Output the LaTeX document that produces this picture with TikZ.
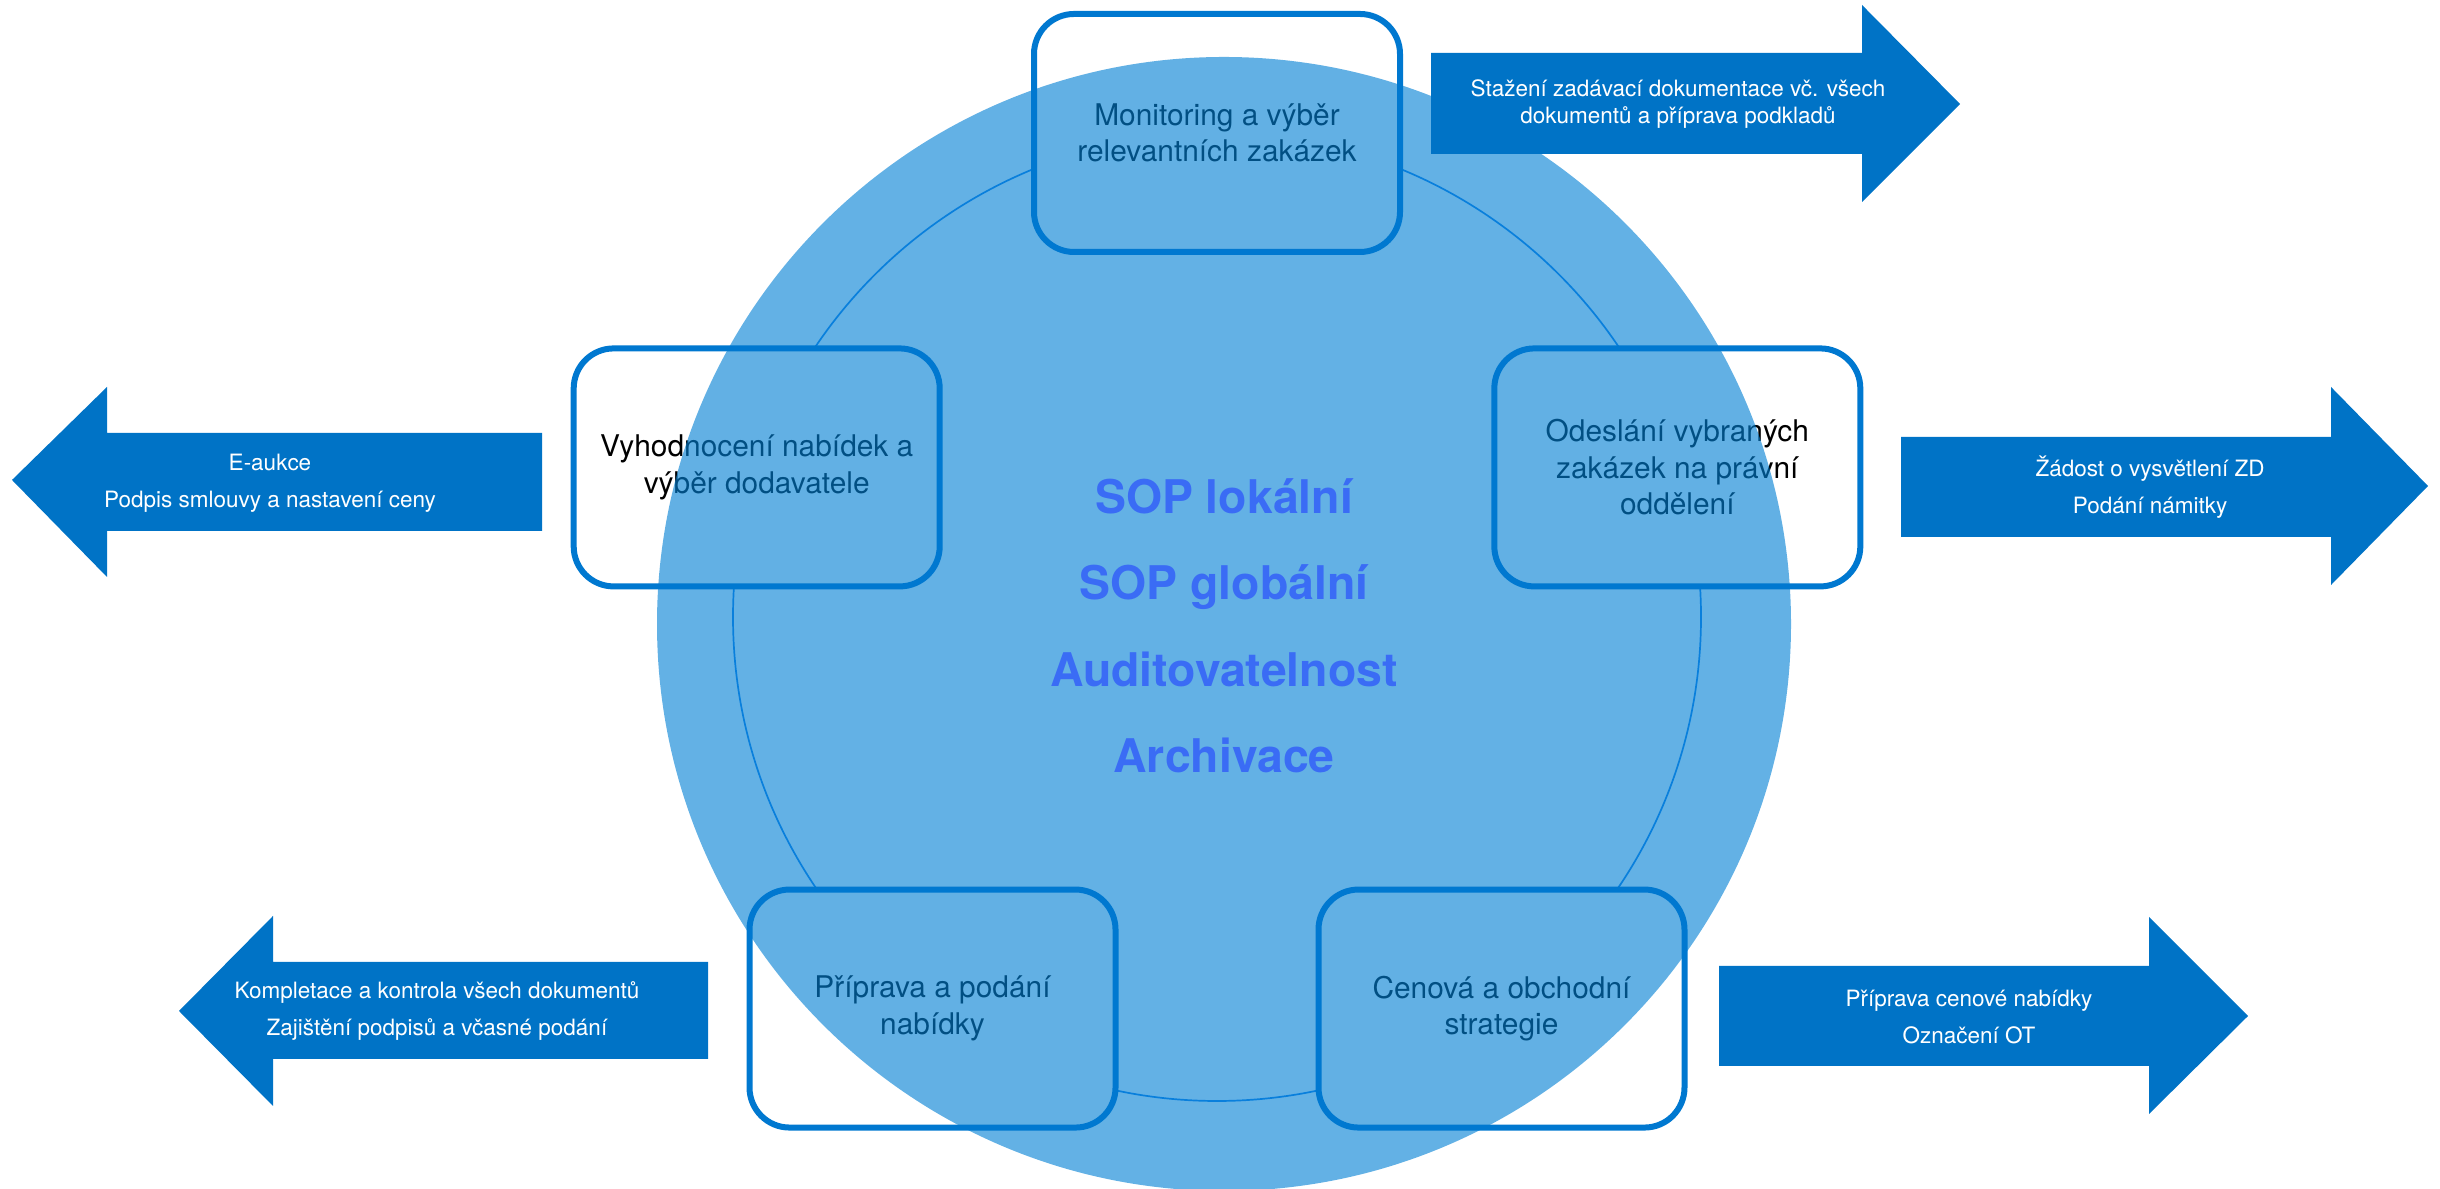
\documentclass[tikz,border=0pt]{standalone}
\usepackage{fontspec}
\setmainfont{TeX Gyre Heros}

\definecolor{discblue}{RGB}{3,129,213}
\definecolor{ringblue}{RGB}{20,126,232}
\definecolor{frameblue}{RGB}{0,120,208}
\definecolor{arrowblue}{RGB}{0,115,198}
\definecolor{sopblue}{RGB}{58,108,245}

\begin{document}
\begin{tikzpicture}[x=0.1mm, y=0.1mm,
	stage/.style={fill=white, outer sep=0pt, minimum width=36.6mm, minimum height=23.8mm,
		rounded corners=4mm, align=center, font=\fontsize{8.5}{10.4}\selectfont},
	stageframe/.style={draw=frameblue, line width=0.6mm, rounded corners=4mm},
	blockarrow/.style={fill=arrowblue},
	arrowtext/.style={text=white, align=center, font=\fontsize{6.4}{10.5}\selectfont},
	soptext/.style={text=sopblue, anchor=base, font=\fontsize{13.2}{15}\selectfont\bfseries}]
	\useasboundingbox (0,0) rectangle (2440,1189);

	% Ring through the stages
	\coordinate (hub) at (1217,572);
	\draw[ringblue, line width=0.17mm] (hub) circle (484);

	% Stages
	\node[stage] (monitor) at ([shift={(90:484)}]hub) {Monitoring a výběr\\relevantních zakázek};
	\node[stage] (legal) at ([shift={(18:484)}]hub) {Odeslání vybraných\\zakázek na právní\\oddělení};
	\node[stage] (pricing) at ([shift={(306:484)}]hub) {Cenová a obchodní\\strategie};
	\node[stage] (bid) at ([shift={(234:484)}]hub) {Příprava a podání\\nabídky};
	\node[stage] (evaluation) at ([shift={(162:484)}]hub) {Vyhodnocení nabídek a\\výběr dodavatele};

	% Disc
	\fill[discblue, fill opacity=0.62] (1224,565) circle (567);

	% Frames
	\foreach \n in {monitor, legal, pricing, bid, evaluation}
		\draw[stageframe] (\n.south west) rectangle (\n.north east);

	% Arrow: monitoring
	\fill[blockarrow] (1431,1035) -- (1862,1035) -- (1862,987) -- (1960,1085) -- (1862,1184) -- (1862,1136) -- (1431,1136) -- cycle;
	\node[arrowtext, font=\fontsize{6.4}{7.6}\selectfont] (tenderdocs) at (1678,1085) {Stažení zadávací dokumentace vč. všech\\dokumentů a příprava podkladů};

	% Arrow: legal
	\fill[blockarrow] (1901,652) -- (2331,652) -- (2331,604) -- (2428,703) -- (2331,802) -- (2331,752) -- (1901,752) -- cycle;
	\node[arrowtext] (objection) at (2150,702) {Žádost o vysvětlení ZD\\Podání námitky};

	% Arrow: pricing
	\fill[blockarrow] (1719,123) -- (2149,123) -- (2149,75) -- (2248,173) -- (2149,272) -- (2149,223) -- (1719,223) -- cycle;
	\node[arrowtext] (priceoffer) at (1969,172) {Příprava cenové nabídky\\Označení OT};

	% Arrow: bid
	\fill[blockarrow] (708,130) -- (273,130) -- (273,83) -- (179,178) -- (273,273) -- (273,227) -- (708,227) -- cycle;
	\node[arrowtext] (submission) at (437,178) {Kompletace a kontrola všech dokumentů\\Zajištění podpisů a včasné podání};

	% Arrow: evaluation
	\fill[blockarrow] (542,658) -- (107,658) -- (107,612) -- (12,709) -- (107,802) -- (107,756) -- (542,756) -- cycle;
	\node[arrowtext] (auction) at (270,706) {E-aukce\\Podpis smlouvy a nastavení ceny};

	% Centre
	\node[soptext] (soplocal) at (1224,675) {SOP lokální};
	\node[soptext] (sopglobal) at (1224,589) {SOP globální};
	\node[soptext] (audit) at (1224,502) {Auditovatelnost};
	\node[soptext] (archive) at (1224,416) {Archivace};
\end{tikzpicture}
\end{document}
